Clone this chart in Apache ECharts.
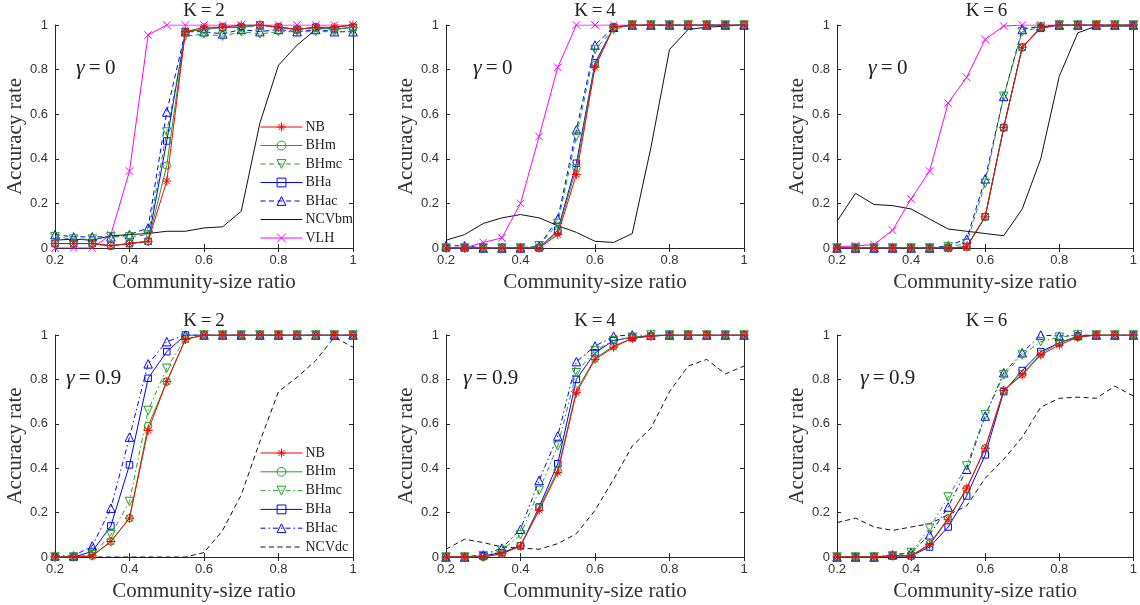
<!DOCTYPE html>
<html>
<head>
<meta charset="utf-8">
<script src="https://cdn.jsdelivr.net/npm/echarts@6/dist/echarts.min.js"></script>
<style>html,body{margin:0;padding:0;background:#fff}#c{width:1140px;height:605px}</style>
</head>
<body>
<div id="c"></div>
<script>
// ---- data ----
const ratio = [0.2,0.25,0.3,0.35,0.4,0.45,0.5,0.55,0.6,0.65,0.7,0.75,0.8,0.85,0.9,0.95,1.0];
const xTicks = [0.2,0.4,0.6,0.8,1];
const yTicks = [0,0.2,0.4,0.6,0.8,1];
const panelTitles = ['K = 2','K = 4','K = 6','K = 2','K = 4','K = 6'];
const gammaLabels = ['0','0','0','0.9','0.9','0.9'];
const legendTop = ['NB','BHm','BHmc','BHa','BHac','NCVbm','VLH'];
const legendBottom = ['NB','BHm','BHmc','BHa','BHac','NCVdc'];

// K=2, gamma=0
const k2g0_NB    = [0.02,0.02,0.02,0.01,0.02,0.03,0.30,0.97,0.99,0.99,1.0,1.0,0.99,0.98,0.99,0.99,1.0];
const k2g0_BHm   = [0.02,0.02,0.02,0.01,0.02,0.03,0.37,0.97,0.98,0.99,0.99,1.0,0.99,0.98,0.99,0.98,0.99];
const k2g0_BHmc  = [0.05,0.04,0.04,0.05,0.05,0.06,0.52,0.95,0.96,0.95,0.97,0.96,0.97,0.97,0.97,0.97,0.97];
const k2g0_BHa   = [0.02,0.02,0.02,0.01,0.02,0.03,0.48,0.97,0.98,0.99,0.99,1.0,0.99,0.98,0.99,0.98,0.99];
const k2g0_BHac  = [0.06,0.05,0.05,0.05,0.06,0.09,0.61,0.97,0.97,0.96,0.98,0.97,0.98,0.97,0.98,0.97,0.97];
const k2g0_NCVbm = [0.035,0.04,0.035,0.055,0.06,0.065,0.075,0.075,0.09,0.095,0.165,0.56,0.82,0.91,0.98,0.99,1.0];
const k2g0_VLH   = [0,0,0,0.06,0.345,0.955,1,1,1,1,1,1,1,1,1,1,1];

// K=4, gamma=0
const k4g0_NB    = [0,0,0,0,0,0,0.06,0.33,0.81,0.99,1,1,1,1,1,1,1];
const k4g0_BHm   = [0,0,0,0,0,0,0.07,0.36,0.82,0.99,1,1,1,1,1,1,1];
const k4g0_BHmc  = [0,0,0,0,0,0.01,0.11,0.50,0.89,0.98,1,1,1,1,1,1,1];
const k4g0_BHa   = [0,0,0,0,0,0,0.08,0.38,0.83,0.99,1,1,1,1,1,1,1];
const k4g0_BHac  = [0.01,0.01,0,0,0,0.01,0.13,0.53,0.91,0.99,1,1,1,1,1,1,1];
const k4g0_NCVbm = [0.035,0.06,0.11,0.135,0.15,0.135,0.10,0.07,0.03,0.025,0.065,0.45,0.89,0.98,0.99,0.995,1.0];
const k4g0_VLH   = [0,0,0.025,0.045,0.20,0.50,0.81,1,1,1,1,1,1,1,1,1,1];

// K=6, gamma=0
const k6g0_NB    = [0,0,0,0,0,0,0,0.005,0.14,0.54,0.90,0.99,1,1,1,1,1];
const k6g0_BHm   = [0,0,0,0,0,0,0,0.005,0.14,0.54,0.90,0.99,1,1,1,1,1];
const k6g0_BHmc  = [0,0,0,0,0,0,0.005,0.02,0.29,0.68,0.97,0.99,1,1,1,1,1];
const k6g0_BHa   = [0,0,0,0,0,0,0,0.005,0.14,0.54,0.90,0.985,1,1,1,1,1];
const k6g0_BHac  = [0,0,0,0,0,0,0.01,0.04,0.31,0.68,0.98,0.995,1,1,1,1,1];
const k6g0_NCVbm = [0.12,0.245,0.195,0.19,0.175,0.13,0.085,0.075,0.065,0.055,0.175,0.40,0.77,0.965,0.995,0.995,0.995];
const k6g0_VLH   = [0.005,0.01,0.015,0.08,0.22,0.345,0.65,0.765,0.935,0.995,1,1,1,1,1,1,1];

// K=2, gamma=0.9
const k2g9_NB    = [0,0,0.005,0.07,0.175,0.57,0.79,0.98,1,1,1,1,1,1,1,1,1];
const k2g9_BHm   = [0,0,0.005,0.07,0.175,0.59,0.79,0.98,1,1,1,1,1,1,1,1,1];
const k2g9_BHmc  = [0,0,0.01,0.10,0.25,0.66,0.85,0.985,1,1,1,1,1,1,1,1,1];
const k2g9_BHa   = [0,0,0.025,0.14,0.415,0.805,0.925,1,1,1,1,1,1,1,1,1,1];
const k2g9_BHac  = [0.005,0.005,0.05,0.22,0.54,0.87,0.97,1,1,1,1,1,1,1,1,1,1];
const k2g9_NCVdc = [0,0,0,0,0,0,0,0,0.02,0.12,0.28,0.52,0.745,0.81,0.885,0.99,0.945];

// K=4, gamma=0.9
const k4g9_NB    = [0,0,0,0.015,0.05,0.21,0.38,0.74,0.89,0.945,0.985,0.995,1,1,1,1,1];
const k4g9_BHm   = [0,0,0,0.015,0.05,0.22,0.39,0.75,0.895,0.95,0.985,0.995,1,1,1,1,1];
const k4g9_BHmc  = [0,0,0.005,0.03,0.10,0.30,0.50,0.83,0.93,0.975,0.99,1,1,1,1,1,1];
const k4g9_BHa   = [0,0,0.005,0.02,0.05,0.225,0.42,0.80,0.92,0.975,0.99,0.995,1,1,1,1,1];
const k4g9_BHac  = [0,0,0.01,0.04,0.125,0.345,0.545,0.88,0.95,0.995,1,1,1,1,1,1,1];
const k4g9_NCVdc = [0.035,0.08,0.065,0.045,0.04,0.035,0.06,0.105,0.21,0.35,0.50,0.58,0.745,0.86,0.89,0.825,0.86];

// K=6, gamma=0.9
const k6g9_NB    = [0,0,0,0.005,0.005,0.055,0.17,0.31,0.49,0.75,0.82,0.91,0.955,0.99,1,1,1];
const k6g9_BHm   = [0,0,0,0.005,0.005,0.06,0.175,0.305,0.49,0.75,0.825,0.915,0.965,0.99,1,1,1];
const k6g9_BHmc  = [0,0,0,0.005,0.02,0.13,0.27,0.41,0.64,0.82,0.91,0.97,0.99,1,1,1,1];
const k6g9_BHa   = [0,0,0,0.005,0.005,0.045,0.135,0.275,0.46,0.745,0.84,0.925,0.965,0.995,1,1,1];
const k6g9_BHac  = [0,0,0,0.01,0.02,0.10,0.225,0.395,0.635,0.83,0.92,1.0,0.995,1,1,1,1];
const k6g9_NCVdc = [0.155,0.175,0.135,0.12,0.135,0.15,0.19,0.23,0.355,0.44,0.54,0.675,0.715,0.72,0.715,0.77,0.725];

const panels = [
  {NB:k2g0_NB,BHm:k2g0_BHm,BHmc:k2g0_BHmc,BHa:k2g0_BHa,BHac:k2g0_BHac,NCVbm:k2g0_NCVbm,VLH:k2g0_VLH},
  {NB:k4g0_NB,BHm:k4g0_BHm,BHmc:k4g0_BHmc,BHa:k4g0_BHa,BHac:k4g0_BHac,NCVbm:k4g0_NCVbm,VLH:k4g0_VLH},
  {NB:k6g0_NB,BHm:k6g0_BHm,BHmc:k6g0_BHmc,BHa:k6g0_BHa,BHac:k6g0_BHac,NCVbm:k6g0_NCVbm,VLH:k6g0_VLH},
  {NB:k2g9_NB,BHm:k2g9_BHm,BHmc:k2g9_BHmc,BHa:k2g9_BHa,BHac:k2g9_BHac,NCVdc:k2g9_NCVdc},
  {NB:k4g9_NB,BHm:k4g9_BHm,BHmc:k4g9_BHmc,BHa:k4g9_BHa,BHac:k4g9_BHac,NCVdc:k4g9_NCVdc},
  {NB:k6g9_NB,BHm:k6g9_BHm,BHmc:k6g9_BHmc,BHa:k6g9_BHa,BHac:k6g9_BHac,NCVdc:k6g9_NCVdc}
];

// ---- styles ----
const RED='#ff0000', GREEN='#22a022', BLUE='#0000ff', MAG='#ff00ff', BLK='#111111';
const SYM = {
  star: 'path://M5 0 L5 10 M0 5 L10 5 M1.5 1.5 L8.5 8.5 M8.5 1.5 L1.5 8.5',
  cross: 'path://M0 0 L10 10 M10 0 L0 10',
  tdown: 'path://M0 0 L10 0 L5 9 Z',
  tup: 'path://M5 0 L10 9 L0 9 Z',
  circle: 'circle',
  rect: 'rect'
};
const DASH = [5,3.5];
const DASHDOT = [5,3,1.5,3];
function styleFor(name, bottom){
  switch(name){
    case 'NB':   return {c:RED,  t:'solid', s:SYM.star,  sz:9, z:8};
    case 'BHm':  return {c:GREEN,t:'solid', s:SYM.circle,sz:7.5, z:7};
    case 'BHmc': return {c:GREEN,t:bottom?DASHDOT:DASH, s:SYM.tdown, sz:8.5, z:7};
    case 'BHa':  return {c:BLUE, t:'solid', s:SYM.rect,  sz:6.5, z:6};
    case 'BHac': return {c:BLUE, t:bottom?DASHDOT:DASH, s:SYM.tup, sz:8.5, z:6};
    case 'NCVbm':return {c:BLK,  t:'solid', s:'none', sz:0, z:5};
    case 'NCVdc':return {c:BLK,  t:DASH, s:'none', sz:0, z:5};
    case 'VLH':  return {c:MAG,  t:'solid', s:SYM.cross, sz:7.5, z:5};
  }
}

// ---- layout ----
const colLeft = [55, 446, 837];
const colW = [298, 298, 299];
const rowTop = [25, 335];
const rowH = [223, 222];
const SERIF = 'Liberation Serif';
const SANS = 'Liberation Sans';
const AX = '#262626';

const grids=[], xAxes=[], yAxes=[], series=[], titles=[], graphics=[];
for(let p=0;p<6;p++){
  const r = Math.floor(p/3), c = p%3;
  grids.push({left:colLeft[c], top:rowTop[r], width:colW[c], height:rowH[r], containLabel:false});
  titles.push({text:panelTitles[p].replace(/ = /,'\u2009=\u2009'), left:colLeft[c]+colW[c]/2, top:rowTop[r]-23, textAlign:'center', padding:0,
    textStyle:{fontFamily:SERIF, fontSize:19, fontWeight:'normal', color:'#222'}});
  xAxes.push({type:'value', gridIndex:p, min:0.2, max:1, interval:0.2,
    name:'Community-size ratio', nameLocation:'middle', nameGap:24,
    nameTextStyle:{fontFamily:SERIF, fontSize:21, color:'#333'},
    axisLine:{show:true, lineStyle:{color:AX, width:1}},
    axisTick:{show:true, inside:true, length:4, lineStyle:{color:AX}},
    axisLabel:{fontFamily:SANS, fontSize:13, color:'#333', margin:6, formatter:v=>String(+v.toFixed(2))},
    splitLine:{show:false}});
  yAxes.push({type:'value', gridIndex:p, min:0, max:1, interval:0.2,
    name:'Accuracy rate', nameLocation:'middle', nameGap:28, nameRotate:90,
    nameTextStyle:{fontFamily:SERIF, fontSize:21, color:'#333'},
    axisLine:{show:true, lineStyle:{color:AX, width:1}},
    axisTick:{show:true, inside:true, length:4, lineStyle:{color:AX}},
    axisLabel:{fontFamily:SANS, fontSize:13, color:'#333', margin:7, formatter:v=>String(+v.toFixed(2))},
    splitLine:{show:false}});
  const d = panels[p];
  Object.keys(d).forEach(name=>{
    const st = styleFor(name, r===1);
    series.push({
      type:'line', name, xAxisIndex:p, yAxisIndex:p,
      color: st.c,
      data: ratio.map((x,i)=>[x, d[name][i]]),
      symbol: st.s, symbolSize: st.sz,
      showSymbol: st.s!=='none',
      z: st.z,
      lineStyle:{color:st.c, width:1, type:st.t},
      itemStyle:{color:'rgba(255,255,255,0)', borderColor:st.c, borderWidth:1},
      emphasis:{disabled:true},
      animation:false
    });
  });
  const gx = [76,473,868,66,463,860][p];
  graphics.push({type:'text', left:gx, top:rowTop[r]+0.2*rowH[r]-12,
    style:{text:'{g|γ}\u2009=\u2009'+gammaLabels[p], font:'21px "Liberation Serif"', fill:'#222',
      rich:{g:{fontStyle:'italic', fontFamily:SERIF, fontSize:22, fill:'#222'}}}});
}
// box (top/right) axes with inward ticks
for(let p=0;p<6;p++){
  xAxes.push({type:'value', gridIndex:p, min:0.2, max:1, interval:0.2, position:'top',
    axisLine:{show:true, lineStyle:{color:AX, width:1}},
    axisTick:{show:true, inside:true, length:4, lineStyle:{color:AX}},
    axisLabel:{show:false}, splitLine:{show:false}});
  yAxes.push({type:'value', gridIndex:p, min:0, max:1, interval:0.2, position:'right',
    axisLine:{show:true, lineStyle:{color:AX, width:1}},
    axisTick:{show:true, inside:true, length:4, lineStyle:{color:AX}},
    axisLabel:{show:false}, splitLine:{show:false}});
}

function legendItems(names, bottom){
  return names.map(n=>{
    const st = styleFor(n, bottom);
    return {name:n, lineStyle:{type:st.t, color:st.c, width:1, opacity:1},
      itemStyle:{color:'rgba(255,255,255,0)', borderColor:st.c, borderWidth:1, opacity: st.s==='none'?0:1}};
  });
}
const legendCommon = {orient:'vertical', itemWidth:42, itemHeight:11, selectedMode:false,
  textStyle:{fontFamily:SERIF, fontSize:14, color:'#222', lineHeight:14, padding:[0,0,0,-2]}, padding:0};

const option = {
  backgroundColor:'#fff',
  animation:false,
  title: titles,
  grid: grids,
  xAxis: xAxes,
  yAxis: yAxes,
  legend: [
    Object.assign({}, legendCommon, {left:260, top:120, itemGap:4.5, data:legendItems(legendTop,false)}),
    Object.assign({}, legendCommon, {left:260, top:446, itemGap:4.8, data:legendItems(legendBottom,true)})
  ],
  graphic: graphics,
  series: series
};
const chart = echarts.init(document.getElementById('c'), null, {renderer:'canvas'});
chart.setOption(option);
</script>
</body>
</html>
